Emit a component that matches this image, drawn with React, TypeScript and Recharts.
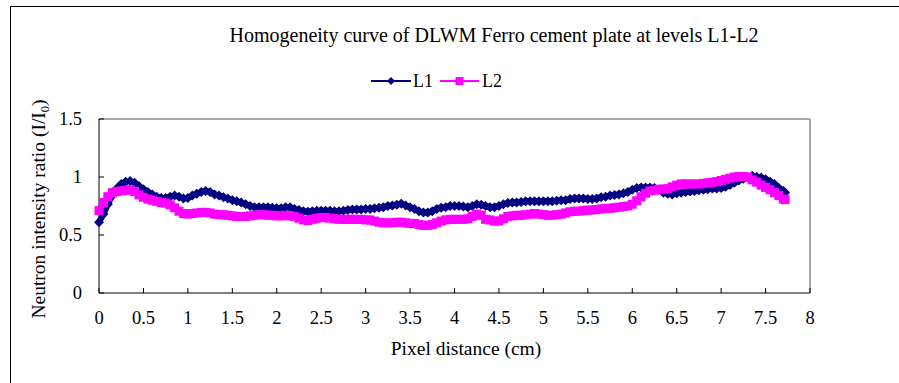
import { Line, LineChart, ReferenceLine, XAxis, YAxis } from 'recharts';

// pixel distance (cm)
const distance = [
  0, 0.05, 0.1, 0.15, 0.2, 0.25, 0.3, 0.35, 0.4, 0.45,
  0.5, 0.55, 0.6, 0.65, 0.7, 0.75, 0.8, 0.85, 0.9, 0.95,
  1.0, 1.05, 1.1, 1.15, 1.2, 1.25, 1.3, 1.35, 1.4, 1.45,
  1.5, 1.55, 1.6, 1.65, 1.7, 1.75, 1.8, 1.85, 1.9, 1.95,
  2.0, 2.05, 2.1, 2.15, 2.2, 2.25, 2.3, 2.35, 2.4, 2.45,
  2.5, 2.55, 2.6, 2.65, 2.7, 2.75, 2.8, 2.85, 2.9, 2.95,
  3.0, 3.05, 3.1, 3.15, 3.2, 3.25, 3.3, 3.35, 3.4, 3.45,
  3.5, 3.55, 3.6, 3.65, 3.7, 3.75, 3.8, 3.85, 3.9, 3.95,
  4.0, 4.05, 4.1, 4.15, 4.2, 4.25, 4.3, 4.35, 4.4, 4.45,
  4.5, 4.55, 4.6, 4.65, 4.7, 4.75, 4.8, 4.85, 4.9, 4.95,
  5.0, 5.05, 5.1, 5.15, 5.2, 5.25, 5.3, 5.35, 5.4, 5.45,
  5.5, 5.55, 5.6, 5.65, 5.7, 5.75, 5.8, 5.85, 5.9, 5.95,
  6.0, 6.05, 6.1, 6.15, 6.2, 6.25, 6.3, 6.35, 6.4, 6.45,
  6.5, 6.55, 6.6, 6.65, 6.7, 6.75, 6.8, 6.85, 6.9, 6.95,
  7.0, 7.05, 7.1, 7.15, 7.2, 7.25, 7.3, 7.35, 7.4, 7.45,
  7.5, 7.55, 7.6, 7.65, 7.7, 7.72,
];

const l1 = [
  0.61, 0.68, 0.765, 0.84, 0.9, 0.94, 0.96, 0.965, 0.95, 0.92,
  0.895, 0.87, 0.85, 0.83, 0.82, 0.82, 0.83, 0.84, 0.83, 0.815,
  0.82, 0.84, 0.855, 0.87, 0.88, 0.87, 0.85, 0.84, 0.825, 0.815,
  0.8, 0.79, 0.78, 0.765, 0.75, 0.74, 0.74, 0.74, 0.74, 0.735,
  0.73, 0.73, 0.74, 0.74, 0.725, 0.715, 0.705, 0.7, 0.705, 0.71,
  0.71, 0.71, 0.71, 0.705, 0.705, 0.71, 0.715, 0.72, 0.72, 0.72,
  0.725, 0.725, 0.73, 0.735, 0.74, 0.75, 0.755, 0.76, 0.77, 0.755,
  0.74, 0.725, 0.705, 0.695, 0.695, 0.705, 0.725, 0.735, 0.74, 0.75,
  0.75, 0.75, 0.745, 0.74, 0.75, 0.765, 0.76, 0.75, 0.74, 0.74,
  0.75, 0.765, 0.775, 0.78, 0.78, 0.785, 0.79, 0.79, 0.79, 0.79,
  0.79, 0.79, 0.79, 0.795, 0.8, 0.8, 0.81, 0.815, 0.815, 0.815,
  0.81, 0.81, 0.815, 0.825, 0.83, 0.84, 0.845, 0.85, 0.86, 0.87,
  0.89, 0.905, 0.91, 0.91, 0.91, 0.905, 0.89, 0.865, 0.855, 0.85,
  0.86, 0.865, 0.87, 0.875, 0.88, 0.885, 0.89, 0.895, 0.9, 0.9,
  0.905, 0.915, 0.93, 0.95, 0.97, 0.985, 0.995, 1.01, 1.0, 0.995,
  0.98, 0.96, 0.94, 0.905, 0.88, 0.865,
];

const l2 = [
  0.71, 0.78, 0.83, 0.865, 0.875, 0.88, 0.885, 0.89, 0.875, 0.845,
  0.825, 0.81, 0.8, 0.79, 0.78, 0.775, 0.76, 0.735, 0.705, 0.685,
  0.68, 0.685, 0.69, 0.695, 0.695, 0.69, 0.68, 0.675, 0.675, 0.67,
  0.665, 0.66, 0.66, 0.66, 0.665, 0.67, 0.675, 0.675, 0.67, 0.67,
  0.665, 0.665, 0.67, 0.665, 0.66, 0.645, 0.63, 0.625, 0.635, 0.645,
  0.65, 0.65, 0.645, 0.64, 0.635, 0.635, 0.635, 0.635, 0.635, 0.635,
  0.63, 0.63, 0.62, 0.61, 0.605, 0.605, 0.605, 0.61, 0.61, 0.605,
  0.6, 0.6, 0.59, 0.583, 0.583, 0.59, 0.605, 0.62, 0.63, 0.635,
  0.635, 0.635, 0.635, 0.64, 0.66, 0.68, 0.67, 0.635, 0.63, 0.62,
  0.62, 0.64, 0.66, 0.665, 0.67, 0.67, 0.675, 0.68, 0.685, 0.68,
  0.675, 0.67, 0.67, 0.675, 0.68, 0.69, 0.7, 0.705, 0.705, 0.71,
  0.715, 0.715, 0.72, 0.725, 0.73, 0.73, 0.735, 0.74, 0.745, 0.75,
  0.765, 0.795, 0.83, 0.86, 0.88, 0.885, 0.895, 0.895, 0.9, 0.915,
  0.93, 0.94, 0.94, 0.94, 0.94, 0.94, 0.945, 0.95, 0.955, 0.96,
  0.97, 0.98, 0.99, 1.0, 1.005, 1.005, 1.0, 0.975, 0.955, 0.93,
  0.91, 0.89, 0.865, 0.84, 0.81, 0.805,
];

const xTicks = [0, 0.5, 1, 1.5, 2, 2.5, 3, 3.5, 4, 4.5, 5, 5.5, 6, 6.5, 7, 7.5, 8];
const yTicks = [0, 0.5, 1, 1.5];

const L1_COLOR = '#000080';
const L2_COLOR = '#ff00ff';
const FONT = 'Liberation Serif, Times New Roman, serif';

const data = distance.map((x, i) => ({ x, L1: l1[i], L2: l2[i] }));

function DiamondDot(props: any) {
  const { cx, cy } = props;
  if (cx == null || cy == null) return null;
  const r = 5;
  return (
    <polygon
      points={`${cx},${cy - r} ${cx + r},${cy} ${cx},${cy + r} ${cx - r},${cy}`}
      fill={L1_COLOR}
    />
  );
}

function SquareDot(props: any) {
  const { cx, cy } = props;
  if (cx == null || cy == null) return null;
  return <rect x={cx - 4.5} y={cy - 4.5} width={9} height={9} fill={L2_COLOR} />;
}

// serif tick labels
function XTick(props: any) {
  const { x, y, payload } = props;
  return (
    <text
      x={x}
      y={y}
      dy="0.71em"
      textAnchor="middle"
      style={{ fontFamily: FONT }}
      fontSize={18.5}
      fill="#000"
    >
      {payload.value}
    </text>
  );
}

function YTick(props: any) {
  const { x, y, payload } = props;
  return (
    <text
      x={x}
      y={y}
      dy="0.34em"
      textAnchor="end"
      style={{ fontFamily: FONT }}
      fontSize={18.5}
      fill="#000"
    >
      {payload.value}
    </text>
  );
}

export default function App() {
  return (
    <div
      style={{
        position: 'fixed',
        left: 0,
        top: 0,
        width: 899,
        height: 383,
        overflow: 'hidden',
        background: '#fff',
        fontFamily: FONT,
      }}
    >
      <div
        style={{
          position: 'absolute',
          left: 10,
          top: 6,
          width: 1000,
          height: 1000,
          border: '1px solid #000',
        }}
      />
      <LineChart
        width={899}
        height={383}
        data={data}
        margin={{ top: 119, right: 89, bottom: 60, left: 39 }}
      >
        <XAxis
          dataKey="x"
          type="number"
          domain={[0, 8]}
          ticks={xTicks}
          height={30}
          stroke="#000"
          tickSize={-5}
          tickMargin={23}
          tick={<XTick />}
          interval={0}
        />
        <YAxis
          type="number"
          domain={[0, 1.5]}
          ticks={yTicks}
          width={60}
          stroke="#000"
          tickSize={-5}
          tickMargin={22}
          tick={<YTick />}
          interval={0}
        />
        <ReferenceLine y={1.5} stroke="#8c8c8c" strokeWidth={1.5} />
        <ReferenceLine x={8} stroke="#8c8c8c" strokeWidth={1.5} />
        <Line
          dataKey="L1"
          stroke={L1_COLOR}
          strokeWidth={6}
          dot={<DiamondDot />}
          activeDot={false}
          isAnimationActive={false}
        />
        <Line
          dataKey="L2"
          stroke={L2_COLOR}
          strokeWidth={6}
          dot={<SquareDot />}
          activeDot={false}
          isAnimationActive={false}
        />
      </LineChart>
      <svg
        width={899}
        height={383}
        style={{ position: 'absolute', left: 0, top: 0, pointerEvents: 'none' }}
      >
        <text x={494} y={42} textAnchor="middle" fontFamily={FONT} fontSize={20} fill="#000">
          Homogeneity curve of DLWM Ferro cement plate at levels L1-L2
        </text>
        {/* legend */}
        <g transform="translate(371 70)">
          <line x1={0} y1={11} x2={40} y2={11} stroke={L1_COLOR} strokeWidth={2} />
          <polygon points="20,7 24,11 20,15 16,11" fill={L1_COLOR} />
          <text x={42} y={17} fontFamily={FONT} fontSize={18} fill="#000">L1</text>
          <line x1={69} y1={11} x2={108} y2={11} stroke={L2_COLOR} strokeWidth={2} />
          <rect x={84.5} y={7} width={8} height={8} fill={L2_COLOR} />
          <text x={111} y={17} fontFamily={FONT} fontSize={18} fill="#000">L2</text>
        </g>
        <text
          x={466}
          y={355}
          textAnchor="middle"
          fontFamily={FONT}
          fontSize={19.5}
          fill="#000"
        >
          Pixel distance (cm)
        </text>
        <text
          x={45}
          y={209}
          transform="rotate(-90 45 209)"
          textAnchor="middle"
          fontFamily={FONT}
          fontSize={19.5}
          fill="#000"
        >
          Neutron intensity ratio (I/I
          <tspan fontSize={12.5} dy={4}>0</tspan>
          <tspan dy={-4}>)</tspan>
        </text>
      </svg>
    </div>
  );
}
